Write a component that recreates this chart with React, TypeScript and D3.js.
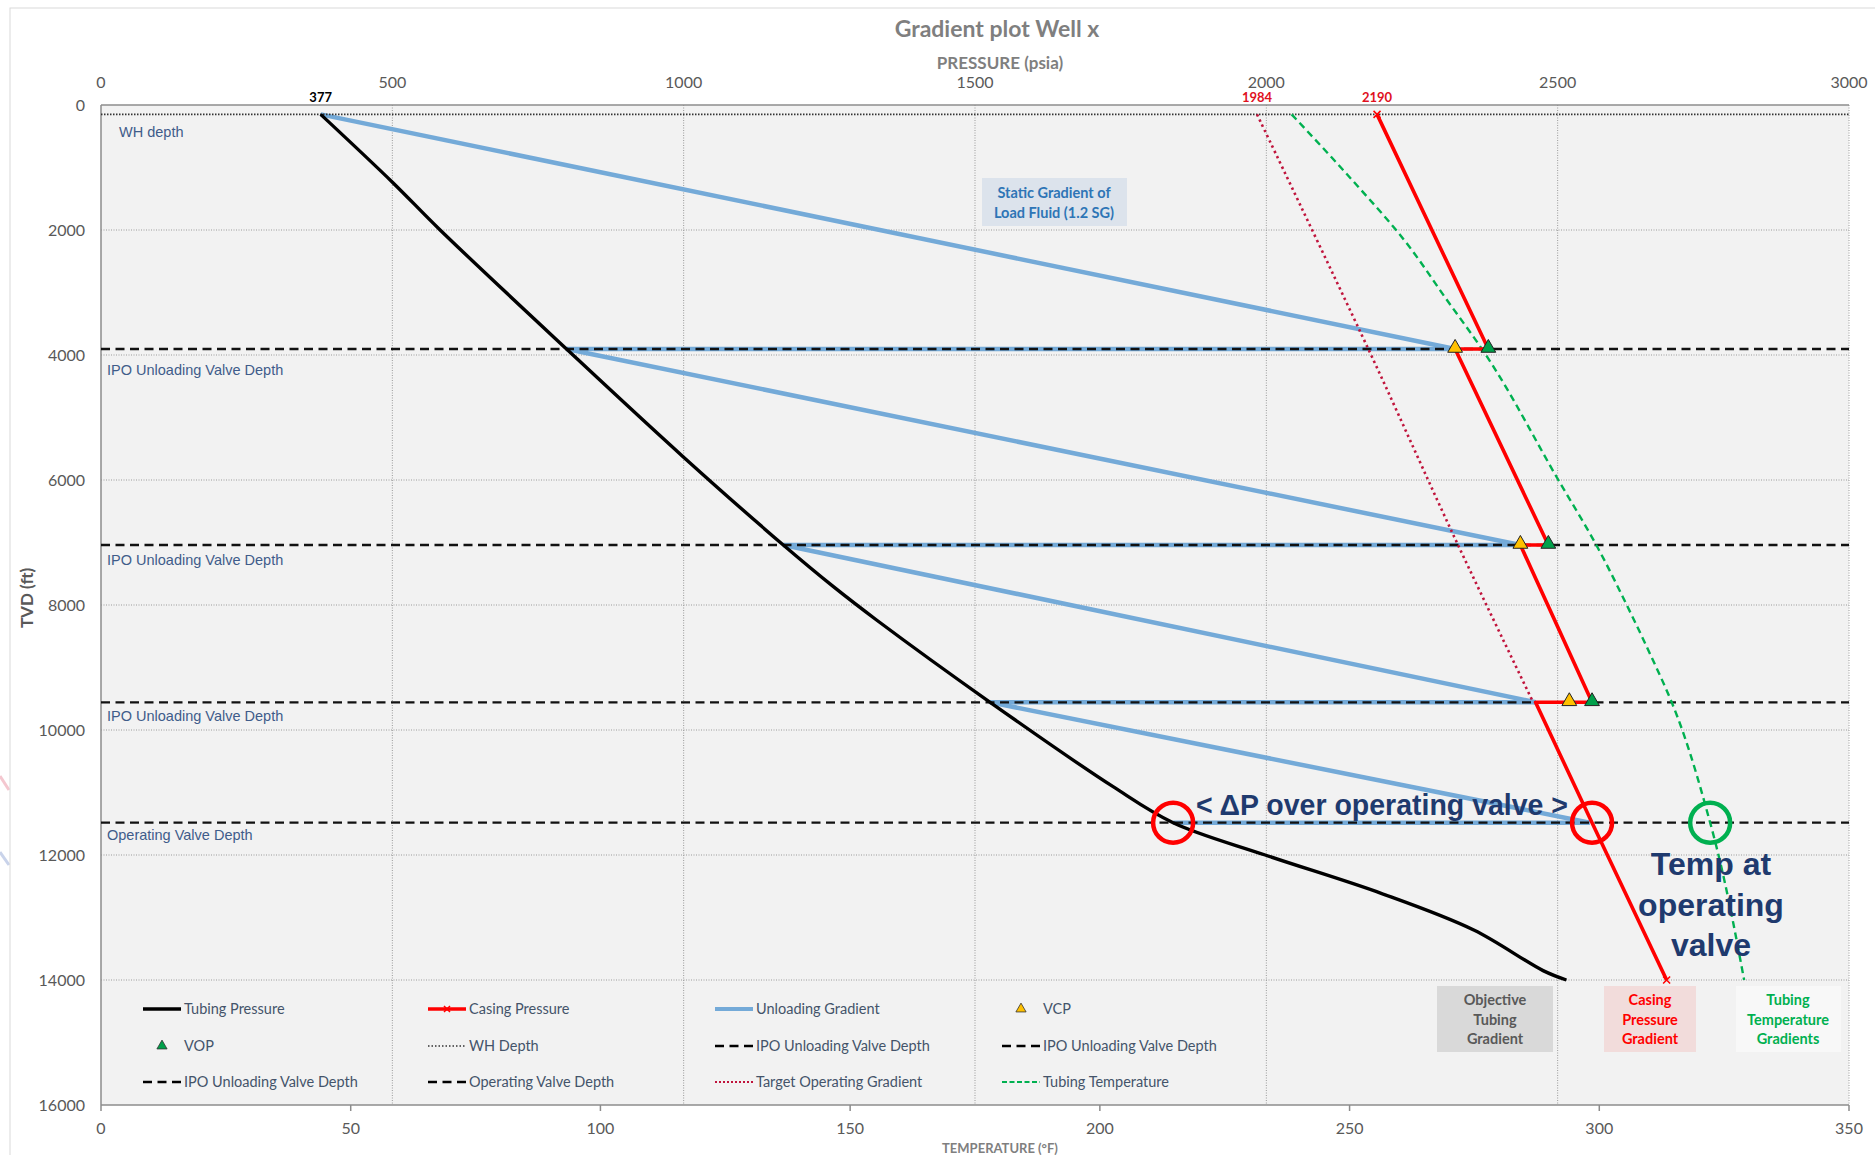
import React from "react";
import * as d3 from "d3";

const W = 1875;
const H = 1155;

// ---- data: [depth (ft), value] ----
const whDepth = 150;
const unloadingValveDepths = [3904, 7040, 9557];
const operatingValveDepth = 11483;

const tubingPressure: [number, number][] = [
  [150, 377], [1243, 501], [2000, 582], [3904, 799], [5627, 999], [7040, 1171],
  [7707, 1257], [8240, 1331], [9557, 1526], [10907, 1737],
  [11483, 1840], [12000, 1998], [12613, 2197], [13200, 2356], [13850, 2475], [14000, 2515],
];

const casingPressure: [number, number][] = [
  [150, 2190], [3904, 2381], [3904, 2324], [7040, 2484], [7040, 2436],
  [9557, 2559], [9557, 2462], [11483, 2559], [14000, 2687],
];

// tubing pressure at each valve and the end of the unloading gradient at that valve
const unloadStartDepths = [150, 3904, 7040, 9557];
const unloadStartPressures = [377, 799, 1171, 1526];
const unloadEndDepths = [3904, 7040, 9557, 11483];
const unloadEndPressures = [2324, 2436, 2462, 2555];

const vcp = [2324, 2436, 2520];
const vop = [2381, 2484, 2559];

const targetOperatingGradient: [number, number][] = [
  [150, 1984], [3904, 2175], [7040, 2329], [9557, 2458],
];

const tubingTemperature: [number, number][] = [
  [150, 238.4], [1190, 250.4], [2147, 260.8], [3120, 269.5], [3904, 276.5], [6000, 291.8],
  [7040, 299.4], [8000, 305.5], [8720, 309.8], [9557, 314.5], [11483, 322.2], [14000, 329.0],
];

const pressureTicks = [0, 500, 1000, 1500, 2000, 2500, 3000];
const temperatureTicks = [0, 50, 100, 150, 200, 250, 300, 350];
const depthTicks = [0, 2000, 4000, 6000, 8000, 10000, 12000, 14000, 16000];

const depthLabels = [
  "WH depth",
  "IPO Unloading Valve Depth",
  "IPO Unloading Valve Depth",
  "IPO Unloading Valve Depth",
  "Operating Valve Depth",
];

const legendRows = [
  [["line", "Tubing Pressure"], ["casing", "Casing Pressure"], ["unload", "Unloading Gradient"], ["vcp", "VCP"]],
  [["vop", "VOP"], ["wh", "WH Depth"], ["dash", "IPO Unloading Valve Depth"], ["dash", "IPO Unloading Valve Depth"]],
  [["dash", "IPO Unloading Valve Depth"], ["dash", "Operating Valve Depth"], ["target", "Target Operating Gradient"], ["temp", "Tubing Temperature"]],
];

const COL = {
  tubing: "#000000",
  casing: "#FF0000",
  unload: "#74AAD8",
  target: "#C0143C",
  temp: "#00B050",
  vcp: "#FFC000",
  vop: "#00A04A",
  navy: "#1F3A6E",
  label: "#44546A",
  axis: "#595959",
  title: "#7F7F7F",
};

const CAL = "Lato, 'Open Sans', sans-serif";
const ARIAL = "'Liberation Sans', Arial, sans-serif";

export default function App() {
  const left = 101, right = 1849, top = 105, bottom = 1105;
  const xP = d3.scaleLinear().domain([0, 3000]).range([left, right]);
  const xT = d3.scaleLinear().domain([0, 350]).range([left, right]);
  const y = d3.scaleLinear().domain([0, 16000]).range([top, bottom]);

  const pLine = d3.line<[number, number]>().x((d) => xP(d[1])).y((d) => y(d[0]));
  const pCurve = d3.line<[number, number]>().x((d) => xP(d[1])).y((d) => y(d[0])).curve(d3.curveCatmullRom.alpha(0.5));
  const tCurve = d3.line<[number, number]>().x((d) => xT(d[1])).y((d) => y(d[0])).curve(d3.curveMonotoneY);

  const tri = d3.symbol().type(d3.symbolTriangle).size(95)() as string;
  const triSmall = d3.symbol().type(d3.symbolTriangle).size(45)() as string;

  const xMark = (cx: number, cy: number, s: number, key: string) => (
    <path key={key} d={`M${cx - s},${cy - s}L${cx + s},${cy + s}M${cx - s},${cy + s}L${cx + s},${cy - s}`}
      stroke={COL.casing} strokeWidth={1.5} />
  );

  const valveDepthAll = [...unloadingValveDepths, operatingValveDepth];
  const labelDepths = [whDepth, ...valveDepthAll];
  const labelDy = [18, 21, 15, 14, 12];
  const labelX = [119, 107, 107, 107, 107];

  const legendColX = [143, 428, 715, 1002];
  const legendRowY = [1009, 1046, 1082];

  const legendSample = (kind: string, x: number, yy: number, key: string) => {
    const x2 = x + 38;
    switch (kind) {
      case "line":
        return <line key={key} x1={x} x2={x2} y1={yy} y2={yy} stroke={COL.tubing} strokeWidth={3.5} />;
      case "casing":
        return (
          <g key={key}>
            <line x1={x} x2={x2} y1={yy} y2={yy} stroke={COL.casing} strokeWidth={3.5} />
            {xMark((x + x2) / 2, yy, 3, "m")}
          </g>
        );
      case "unload":
        return <line key={key} x1={x} x2={x2} y1={yy} y2={yy} stroke={COL.unload} strokeWidth={4} />;
      case "vcp":
        return <path key={key} d={triSmall} transform={`translate(${(x + x2) / 2},${yy})`} fill={COL.vcp} stroke="#333" strokeWidth={0.8} />;
      case "vop":
        return <path key={key} d={triSmall} transform={`translate(${(x + x2) / 2},${yy})`} fill={COL.vop} stroke="#333" strokeWidth={0.8} />;
      case "wh":
        return <line key={key} x1={x} x2={x2} y1={yy} y2={yy} stroke="#333" strokeWidth={1.6} strokeDasharray="1.5,2" />;
      case "dash":
        return <line key={key} x1={x} x2={x2} y1={yy} y2={yy} stroke="#000" strokeWidth={2.5} strokeDasharray="9,5.5" />;
      case "target":
        return <line key={key} x1={x} x2={x2} y1={yy} y2={yy} stroke={COL.target} strokeWidth={2} strokeDasharray="2,2" />;
      case "temp":
        return <line key={key} x1={x} x2={x2} y1={yy} y2={yy} stroke={COL.temp} strokeWidth={2} strokeDasharray="5,2.5" />;
      default:
        return null;
    }
  };

  const opY = y(operatingValveDepth);
  const casingAtOp = casingPressure.find((d) => d[0] === operatingValveDepth)![1];
  const tubingAtOp = tubingPressure.find((d) => d[0] === operatingValveDepth)![1];
  const tempAtOp = tubingTemperature.find((d) => d[0] === operatingValveDepth)![1];

  return (
    <svg width={W} height={H} viewBox={`0 0 ${W} ${H}`}
      style={{ position: "absolute", left: 0, top: 0, background: "#ffffff", display: "block" }}>
      {/* faint marks outside the chart frame */}
      <line x1={0} y1={776} x2={9} y2={790} stroke="#F4C7CF" strokeWidth={3} />
      <line x1={0} y1={852} x2={9} y2={865} stroke="#C9D3EA" strokeWidth={3} />

      {/* chart frame */}
      <rect x={10} y={8} width={W} height={H} fill="#ffffff" stroke="#D9D9D9" strokeWidth={1} />

      {/* plot area */}
      <rect x={left} y={top} width={right - left} height={bottom - top} fill="#F2F2F2" />

      {/* grid */}
      {depthTicks.filter((d) => d > 0 && d < 16000).map((d) => (
        <line key={`hg${d}`} x1={left} x2={right} y1={y(d)} y2={y(d)} stroke="#9A9A9A" strokeWidth={1} strokeDasharray="1,1.5" />
      ))}
      {pressureTicks.filter((p) => p > 0).map((p) => (
        <line key={`vg${p}`} x1={xP(p)} x2={xP(p)} y1={top} y2={bottom} stroke="#9A9A9A" strokeWidth={1} strokeDasharray="1,1.5" />
      ))}

      {/* axes lines */}
      <line x1={left} x2={right} y1={top} y2={top} stroke="#8C8C8C" strokeWidth={1.5} />
      <line x1={left} x2={right} y1={bottom} y2={bottom} stroke="#8C8C8C" strokeWidth={1.5} />
      <line x1={left} x2={left} y1={top} y2={bottom} stroke="#8C8C8C" strokeWidth={1.5} />
      {temperatureTicks.map((t) => (
        <line key={`tt${t}`} x1={xT(t)} x2={xT(t)} y1={bottom} y2={bottom + 6} stroke="#8C8C8C" strokeWidth={1.5} />
      ))}

      {/* tick labels */}
      {pressureTicks.map((p) => (
        <text key={`pl${p}`} x={xP(p)} y={87.5} textAnchor="middle" fontFamily={CAL} fontSize={16} fill={COL.axis}>{p}</text>
      ))}
      {temperatureTicks.map((t) => (
        <text key={`tl${t}`} x={xT(t)} y={1134} textAnchor="middle" fontFamily={CAL} fontSize={16} fill={COL.axis}>{t}</text>
      ))}
      {depthTicks.map((d) => (
        <text key={`dl${d}`} x={85} y={y(d) + 6} textAnchor="end" fontFamily={CAL} fontSize={16} fill={COL.axis}>{d}</text>
      ))}

      {/* titles */}
      <text x={997} y={37} textAnchor="middle" fontFamily={CAL} fontWeight="bold" fontSize={23} fill={COL.title}>Gradient plot Well x</text>
      <text x={1000} y={69} textAnchor="middle" fontFamily={CAL} fontWeight="bold" fontSize={17} fill={COL.title}>PRESSURE (psia)</text>
      <text x={1000} y={1153} textAnchor="middle" fontFamily={CAL} fontWeight="bold" fontSize={13} fill={COL.title}>TEMPERATURE (°F)</text>
      <text transform={`translate(33,${598}) rotate(-90)`} textAnchor="middle" fontFamily={CAL} fontWeight="bold" fontSize={17} fill={COL.axis}>TVD (ft)</text>

      {/* unloading gradients */}
      {unloadStartDepths.map((d0, i) => (
        <g key={`ug${i}`}>
          <path d={pLine([[d0, unloadStartPressures[i]], [unloadEndDepths[i], unloadEndPressures[i]]]) as string}
            fill="none" stroke={COL.unload} strokeWidth={4.5} />
          <path d={pLine([[unloadEndDepths[i], i + 1 < unloadStartPressures.length ? unloadStartPressures[i + 1] : tubingAtOp], [unloadEndDepths[i], unloadEndPressures[i]]]) as string}
            fill="none" stroke={COL.unload} strokeWidth={4.5} />
        </g>
      ))}

      {/* WH depth and valve depth lines */}
      <line x1={left} x2={right} y1={y(whDepth)} y2={y(whDepth)} stroke="#333" strokeWidth={1.8} strokeDasharray="1.5,1.5" />
      {valveDepthAll.map((d) => (
        <line key={`vd${d}`} x1={left} x2={right} y1={y(d)} y2={y(d)} stroke="#111" strokeWidth={2.3} strokeDasharray="9,5.5" />
      ))}

      {/* target operating gradient */}
      <path d={pCurve(targetOperatingGradient) as string} fill="none" stroke={COL.target} strokeWidth={2.6} strokeDasharray="2.4,3.4" />

      {/* tubing temperature */}
      <path d={tCurve(tubingTemperature) as string} fill="none" stroke={COL.temp} strokeWidth={2.4} strokeDasharray="7,4.5" />

      {/* tubing pressure */}
      <path d={pCurve(tubingPressure) as string} fill="none" stroke={COL.tubing} strokeWidth={3.4} strokeLinejoin="round" />

      {/* casing pressure */}
      <path d={pLine(casingPressure) as string} fill="none" stroke={COL.casing} strokeWidth={3.6} strokeLinejoin="round" />
      {xMark(xP(casingPressure[0][1]), y(casingPressure[0][0]), 3.5, "cx0")}
      {xMark(xP(casingPressure[casingPressure.length - 1][1]), y(casingPressure[casingPressure.length - 1][0]), 3.5, "cx1")}

      {/* VCP / VOP markers */}
      {unloadingValveDepths.map((d, i) => (
        <g key={`tri${i}`}>
          <path d={tri} transform={`translate(${xP(vcp[i])},${y(d) - 1})`} fill={COL.vcp} stroke="#222" strokeWidth={1} />
          <path d={tri} transform={`translate(${xP(vop[i])},${y(d) - 1})`} fill={COL.vop} stroke="#222" strokeWidth={1} />
        </g>
      ))}

      {/* start value labels */}
      <text x={xP(tubingPressure[0][1])} y={101.5} textAnchor="middle" fontFamily={CAL} fontWeight="bold" fontSize={13} fill="#000">{tubingPressure[0][1]}</text>
      <text x={xP(targetOperatingGradient[0][1])} y={101.5} textAnchor="middle" fontFamily={CAL} fontWeight="bold" fontSize={13} fill="#E0101E">{targetOperatingGradient[0][1]}</text>
      <text x={xP(casingPressure[0][1])} y={101.5} textAnchor="middle" fontFamily={CAL} fontWeight="bold" fontSize={13} fill="#E0101E">{casingPressure[0][1]}</text>

      {/* depth labels */}
      {depthLabels.map((t, i) => (
        <text key={`lab${i}`} x={labelX[i]} y={y(labelDepths[i]) + labelDy[i] + 5} fontFamily={ARIAL} fontSize={14.5} fill="#3F5C8A">{t}</text>
      ))}

      {/* static gradient note */}
      <rect x={982} y={178} width={145} height={48} fill="#DCE3EC" />
      <text x={1054} y={198} textAnchor="middle" fontFamily={CAL} fontWeight="bold" fontSize={14.5} fill="#2E75B6">Static Gradient of</text>
      <text x={1054} y={218} textAnchor="middle" fontFamily={CAL} fontWeight="bold" fontSize={14.5} fill="#2E75B6">Load Fluid (1.2 SG)</text>

      {/* legend */}
      {legendRows.map((row, r) => row.map(([kind, label], c) => (
        <g key={`lg${r}-${c}`}>
          {legendSample(kind, legendColX[c], legendRowY[r], "s")}
          <text x={legendColX[c] + 41} y={legendRowY[r] + 5} fontFamily={CAL} fontSize={14.5} fill={COL.label}>{label}</text>
        </g>
      )))}

      {/* gradient boxes */}
      <rect x={1437} y={986} width={116} height={66} fill="#D9D9D9" />
      {["Objective", "Tubing", "Gradient"].map((t, i) => (
        <text key={`ob${i}`} x={1495} y={1005 + i * 19.5} textAnchor="middle" fontFamily={CAL} fontWeight="bold" fontSize={14.5} fill="#595959">{t}</text>
      ))}
      <rect x={1604} y={986} width={92} height={66} fill="#F2DCDB" />
      {["Casing", "Pressure", "Gradient"].map((t, i) => (
        <text key={`cb${i}`} x={1650} y={1005 + i * 19.5} textAnchor="middle" fontFamily={CAL} fontWeight="bold" fontSize={14.5} fill="#FF0000">{t}</text>
      ))}
      <rect x={1736} y={986} width={105} height={66} fill="#F8F8F8" />
      {["Tubing", "Temperature", "Gradients"].map((t, i) => (
        <text key={`tb${i}`} x={1788} y={1005 + i * 19.5} textAnchor="middle" fontFamily={CAL} fontWeight="bold" fontSize={14.5} fill="#00B050">{t}</text>
      ))}

      {/* operating valve annotations */}
      <circle cx={xP(tubingAtOp)} cy={opY} r={20} fill="none" stroke="#FF0000" strokeWidth={4.5} />
      <circle cx={xP(casingAtOp)} cy={opY} r={20} fill="none" stroke="#FF0000" strokeWidth={4.5} />
      <circle cx={xT(tempAtOp)} cy={opY} r={20} fill="none" stroke="#00B050" strokeWidth={4.5} />
      <text x={1196} y={815} fontFamily={ARIAL} fontWeight="bold" fontSize={29} fill={COL.navy}
        textLength={372} lengthAdjust="spacingAndGlyphs">&lt; ΔP over operating valve &gt;</text>
      {["Temp at", "operating", "valve"].map((t, i) => (
        <text key={`tp${i}`} x={1711} y={875 + i * 40.5} textAnchor="middle" fontFamily={ARIAL} fontWeight="bold" fontSize={32} fill={COL.navy}>{t}</text>
      ))}
    </svg>
  );
}
